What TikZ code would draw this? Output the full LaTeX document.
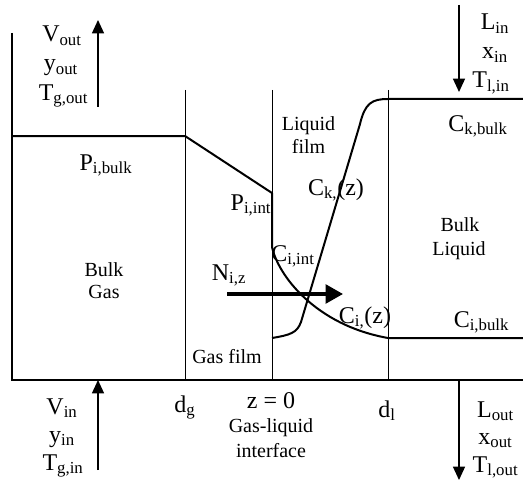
\documentclass[tikz,border=0pt]{standalone}
\usepackage{fontspec}
\setmainfont{Liberation Serif}
\usetikzlibrary{arrows.meta}

\tikzset{
  wall/.style={line width=1.5pt},
  filmline/.style={line width=0.75pt},
  profile/.style={line width=1.5pt, line join=round},
  flow/.style={line width=1pt, -{Triangle[length=10pt, width=9pt]}},
  flux/.style={line width=2.5pt, -{Triangle[length=13pt, width=14pt]}},
  varlbl/.style={font=\fontsize{18}{20}\selectfont, inner sep=0pt, anchor=base},
  wordlbl/.style={font=\fontsize{15}{17}\selectfont, inner sep=0pt, anchor=base},
}

\begin{document}
\begin{tikzpicture}[x=0.75pt, y=-0.75pt]
\useasboundingbox (0,0) rectangle (523,481);

% === Walls and film boundaries ===
\draw[wall] (12,33) -- (12,380) -- (523,380);
\draw[filmline] (185,90) -- (185,380);
\draw[filmline] (272,90) -- (272,380);
\draw[filmline] (388,90) -- (388,380);

% === Partial pressure and C_i profile ===
\draw[profile] (12,136) -- (185,136) -- (272,193) -- (272,247)
  .. controls (278,275) and (315,325) .. (388,338) -- (523,338);

% === C_k profile ===
\draw[profile] (272,338) .. controls (290,335) and (297,333) .. (301,322)
  -- (360,124) .. controls (365,103) and (372,99) .. (388,99) -- (523,99);

% === Gas flows (left) ===
\coordinate (voutA) at (98,107);
\coordinate (voutB) at (98,20);
\draw[flow] (voutA) -- (voutB);
\node[varlbl] (vout) at (62,42) {V\textsubscript{out}};
\node[varlbl] (yout) at (61,71) {y\textsubscript{out}};
\node[varlbl] (tgout) at (63.5,100) {T\textsubscript{g,out}};

\coordinate (vinA) at (98,470);
\coordinate (vinB) at (98,380);
\draw[flow] (vinA) -- (vinB);
\node[varlbl] (vin) at (62,414) {V\textsubscript{in}};
\node[varlbl] (yin) at (62,442) {y\textsubscript{in}};
\node[varlbl] (tgin) at (63,470) {T\textsubscript{g,in}};

% === Liquid flows (right) ===
\coordinate (linA) at (459,5);
\coordinate (linB) at (459,92);
\draw[flow] (linA) -- (linB);
\node[varlbl] (lin) at (495,30) {L\textsubscript{in}};
\node[varlbl] (xin) at (495,59) {x\textsubscript{in}};
\node[varlbl] (tlin) at (491,88) {T\textsubscript{l,in}};

\coordinate (loutA) at (459,380);
\coordinate (loutB) at (459,480);
\draw[flow] (loutA) -- (loutB);
\node[varlbl] (lout) at (495.5,417) {L\textsubscript{out}};
\node[varlbl] (xout) at (495.5,444) {x\textsubscript{out}};
\node[varlbl] (tlout) at (495.5,472) {T\textsubscript{l,out}};

% === Flux across the interface ===
\coordinate (fluxA) at (227,294);
\coordinate (fluxB) at (343,294);
\draw[flux] (fluxA) -- (fluxB);
\node[varlbl] (niz) at (229,280) {N\textsubscript{i,z}};

% === Region labels ===
\node[varlbl] (pbulk) at (106,170) {P\textsubscript{i,bulk}};
\node[wordlbl] (bulkgas) at (104,276) {Bulk};
\node[wordlbl] (bulkgas2) at (104,298) {Gas};
\node[wordlbl] (gasfilm) at (227,363) {Gas film};
\node[varlbl] (pint) at (251,210) {P\textsubscript{i,int}};
\node[varlbl] (cint) at (293,261) {C\textsubscript{i,int}};
\node[wordlbl] (liqfilm) at (308.5,130) {Liquid};
\node[wordlbl] (liqfilm2) at (308.5,153) {film};
\node[varlbl] (ckz) at (336,195) {C\textsubscript{k,}(z)};
\node[varlbl] (ciz) at (365,323) {C\textsubscript{i,}(z)};
\node[varlbl] (ckbulk) at (478,131) {C\textsubscript{k,bulk}};
\node[wordlbl] (bulkliq) at (460,231) {Bulk};
\node[wordlbl] (bulkliq2) at (459,255) {Liquid};
\node[varlbl] (cibulk) at (481.5,327) {C\textsubscript{i,bulk}};

% === Axis labels ===
\node[varlbl] (dg) at (185,412) {d\textsubscript{g}};
\node[varlbl] (zzero) at (271,408) {z = 0};
\node[wordlbl] (iface) at (271,432) {Gas-liquid};
\node[wordlbl] (iface2) at (271,457) {interface};
\node[varlbl] (dl) at (387,417) {d\textsubscript{l}};

\end{tikzpicture}
\end{document}
